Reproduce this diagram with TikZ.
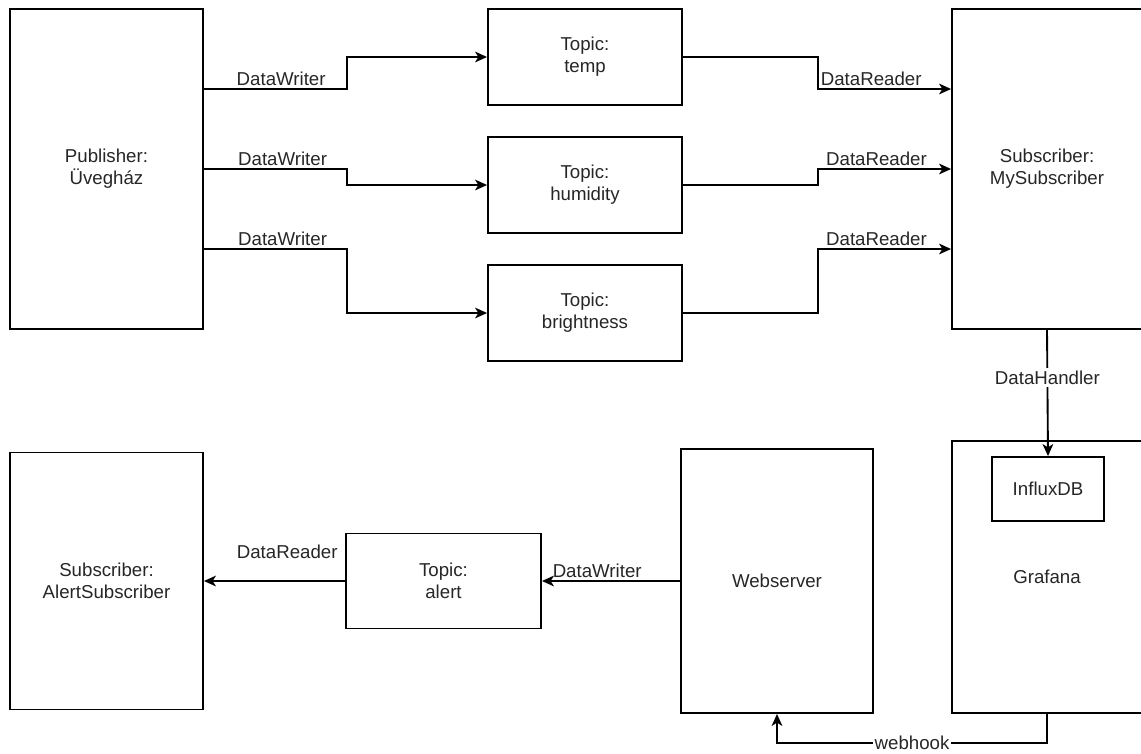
\documentclass[tikz,border=0pt]{standalone}
\usepackage{fontspec}
\setmainfont{Liberation Sans}
\usetikzlibrary{arrows.meta,calc}
\begin{document}
\begin{tikzpicture}[x=0.75pt,y=-0.75pt,
 box/.style={draw, line width=1.4pt, align=center, inner sep=0pt, text=black!85, font=\fontsize{14}{16.5}\selectfont},
 arr/.style={draw, line width=1.4pt, -{Stealth[length=9pt,width=8pt,inset=2.5pt]}},
 lbl/.style={font=\fontsize{14}{16.5}\selectfont, inner sep=2pt, text=black!85},
]
\useasboundingbox (0,0) rectangle (1141,753);
% boxes
\node[box, minimum width=144.75pt, minimum height=240pt] (pub) at (106.5,169) {Publisher:\\Üvegház};
\node[box, minimum width=145.5pt, minimum height=72pt] (temp) at (585,57) {Topic:\\temp};
\node[box, minimum width=145.5pt, minimum height=72pt] (hum) at (585,185) {Topic:\\humidity};
\node[box, minimum width=145.5pt, minimum height=72pt] (bri) at (585,313) {Topic:\\brightness};
\node[box, minimum width=142.5pt, minimum height=240pt] (sub) at (1047,169) {Subscriber:\\MySubscriber};
\node[box, minimum width=142.5pt, minimum height=204pt] (graf) at (1047,577) {Grafana};
\node[box, minimum width=84pt, minimum height=48pt] (influx) at (1048,489) {InfluxDB};
\node[box, minimum width=144pt, minimum height=198pt] (web) at (777,581) {Webserver};
\node[box, minimum width=146.25pt, minimum height=71.25pt] (alert) at (443.5,581) {Topic:\\alert};
\node[box, minimum width=144.75pt, minimum height=192.75pt] (asub) at (106.5,581) {Subscriber:\\AlertSubscriber};
% writers
\draw[arr] ([yshift=60pt]pub.east) -- node[lbl, above, pos=0.54]{DataWriter} ++(143,0) |- (temp.west);
\draw[arr] (pub.east) -- node[lbl, above, pos=0.55]{DataWriter} ++(143,0) |- (hum.west);
\draw[arr] ([yshift=-60pt]pub.east) -- node[lbl, above, pos=0.55]{DataWriter} ++(143,0) |- (bri.west);
% readers
\draw[arr] (temp.east) -- ++(135,0) |- node[lbl, above, pos=0.7]{DataReader} ([yshift=60pt]sub.west);
\draw[arr] (hum.east) -- ++(135,0) |- node[lbl, above, pos=0.72]{DataReader} (sub.west);
\draw[arr] (bri.east) -- ++(135,0) |- node[lbl, above, pos=0.72]{DataReader} ([yshift=-60pt]sub.west);
% data handler
\draw[arr] (sub.south) -- node[lbl, fill=white, pos=0.38]{DataHandler} (influx.north);
% webhook
\draw[arr] (graf.south) -- ++(0,29) -| node[lbl, fill=white, inner sep=1pt, pos=0.25]{webhook} (web.south);
% alert path
\draw[arr] (web.west) -- node[lbl, above, pos=0.6]{DataWriter} (alert.east);
\draw[arr] (alert.west) -- node[lbl, above=14pt, pos=0.41]{DataReader} (asub.east);
\end{tikzpicture}
\end{document}
